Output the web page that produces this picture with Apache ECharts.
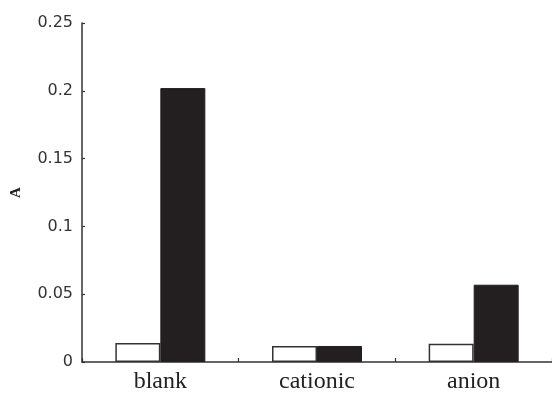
<!DOCTYPE html>
<html>
<head>
<meta charset="utf-8">
<script src="https://cdn.jsdelivr.net/npm/echarts@6/dist/echarts.min.js"></script>
<style>
html,body{margin:0;padding:0;background:#fff;}
#chart{width:552px;height:395px;}
</style>
</head>
<body>
<div id="chart"></div>
<script>
const categories = ['blank', 'cationic', 'anion'];
const whiteValues = [0.014, 0.0118, 0.0135];
const blackValues = [0.202, 0.0118, 0.057];
const yTicks = [0, 0.05, 0.1, 0.15, 0.2, 0.25];

const chart = echarts.init(document.getElementById('chart'));
chart.setOption({
  animation: false,
  backgroundColor: '#fff',
  grid: { left: 82, right: 0, top: 23, bottom: 33, containLabel: false },
  xAxis: {
    type: 'category',
    data: categories,
    axisLine: { lineStyle: { color: '#333', width: 1.5 } },
    axisTick: { show: true, inside: true, length: 4, alignWithLabel: false, lineStyle: { color: '#333', width: 1.2 } },
    axisLabel: { fontFamily: 'Liberation Serif', fontSize: 24, color: '#222', margin: 8 }
  },
  yAxis: {
    type: 'value',
    min: 0, max: 0.25, interval: 0.05,
    name: 'A',
    nameLocation: 'middle',
    nameRotate: 90,
    nameGap: 58,
    nameTextStyle: { fontFamily: 'Liberation Serif', fontSize: 15, fontWeight: 'bold', color: '#222' },
    splitLine: { show: false },
    axisLine: { show: true, lineStyle: { color: '#333', width: 1.5 } },
    axisTick: { show: true, inside: true, length: 3, lineStyle: { color: '#333', width: 1.2 } },
    axisLabel: {
      fontFamily: 'DejaVu Sans', fontSize: 16, color: '#333', margin: 9,
      formatter: v => { const t = yTicks.find(x => Math.abs(x - v) < 1e-9); return t === undefined ? '' : String(t); }
    }
  },
  series: [
    {
      type: 'bar', data: whiteValues, barWidth: 45, barGap: '0%',
      itemStyle: { color: '#fff', borderColor: '#333', borderWidth: 1.5 }
    },
    {
      type: 'bar', data: blackValues, barWidth: 45, barGap: '0%',
      itemStyle: { color: '#231f20', borderColor: '#231f20', borderWidth: 1 }
    }
  ]
});
</script>
</body>
</html>
